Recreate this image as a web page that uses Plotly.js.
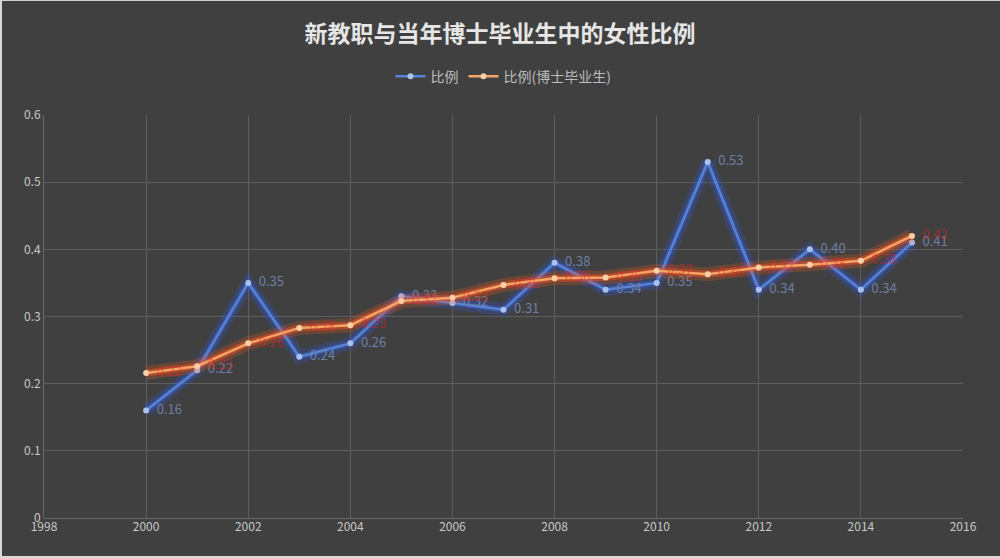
<!DOCTYPE html>
<html>
<head>
<meta charset="utf-8">
<script src="https://cdn.plot.ly/plotly-3.0.1.min.js"></script>
<style>
html,body{margin:0;padding:0;background:#404040;}
#wrap{position:relative;width:1000px;height:558px;}
#chart{width:1000px;height:558px;}
#frame{position:absolute;left:0;top:0;width:1000px;height:558px;box-sizing:border-box;border-left:2px solid #d8d8d8;border-top:1px solid #cfcfcf;border-bottom:2px solid #d8d8d8;pointer-events:none;}
</style>
</head>
<body>
<div id="wrap"><div id="chart"></div><div id="frame"></div></div>
<script>
var years = [2000,2001,2002,2003,2004,2005,2006,2007,2008,2009,2010,2011,2012,2013,2014,2015];
var ratio = [0.16,0.22,0.35,0.24,0.26,0.33,0.32,0.31,0.38,0.34,0.35,0.53,0.34,0.40,0.34,0.41];
var ratioPhD = [0.216,0.226,0.26,0.283,0.287,0.323,0.328,0.347,0.357,0.358,0.368,0.363,0.373,0.377,0.383,0.42];
var seriesNames = ['比例','比例(博士毕业生)'];

function fmt(a){return a.map(function(v){return '\u00a0\u00a0' + v.toFixed(2);});}

var cjk = '"Noto Sans CJK SC", "Noto Sans", sans-serif';
var traces = [
  {x:years,y:ratio,mode:'lines',line:{color:'rgba(40,90,255,0.2)',width:13},hoverinfo:'skip',showlegend:false},
  {x:years,y:ratio,mode:'lines',line:{color:'rgba(60,110,255,0.32)',width:6},hoverinfo:'skip',showlegend:false},
  {x:years,y:ratio,name:seriesNames[0],mode:'lines+markers+text',
   line:{color:'#5683d6',width:2.5},marker:{color:'#a9c0f0',size:6},
   text:fmt(ratio),textposition:'middle right',
   textfont:{color:'#6e7fa6',size:13,family:cjk}},
  {x:years,y:ratioPhD,mode:'lines',line:{color:'rgba(255,90,20,0.22)',width:14},hoverinfo:'skip',showlegend:false},
  {x:years,y:ratioPhD,mode:'lines',line:{color:'rgba(255,80,30,0.45)',width:7},hoverinfo:'skip',showlegend:false},
  {x:years,y:ratioPhD,name:seriesNames[1],mode:'lines+markers+text',
   line:{color:'#f4a565',width:2.5},marker:{color:'#f8d0a8',size:6},
   text:fmt(ratioPhD),textposition:'middle right',
   textfont:{color:'rgba(235,30,30,0.5)',size:13,family:cjk}}
];

var layout = {
  width:1000,height:558,
  paper_bgcolor:'#404040',plot_bgcolor:'#404040',
  margin:{l:44,r:37,t:115,b:40},
  title:{text:'新教职与当年博士毕业生中的女性比例',x:0.5,xanchor:'center',y:0.94,yanchor:'middle',
    font:{family:cjk,size:23,color:'#e6e6e6',weight:'bold'}},
  showlegend:true,
  legend:{orientation:'h',x:0.5,xanchor:'center',y:1.095,yanchor:'middle',
    font:{family:cjk,size:14,color:'#bdbdbd'},bgcolor:'rgba(0,0,0,0)'},
  xaxis:{range:[1998,2016],tick0:1998,dtick:2,showgrid:true,gridcolor:'#5e5e5e',gridwidth:1,
    zeroline:false,showline:false,ticks:'',tickfont:{family:cjk,size:12,color:'#c8c8c8'},fixedrange:true},
  yaxis:{range:[0,0.6],dtick:0.1,showgrid:true,gridcolor:'#5e5e5e',gridwidth:1,
    zeroline:true,zerolinecolor:'#6a6a6a',showline:true,linecolor:'#6a6a6a',linewidth:1,
    ticks:'',tickformat:'.1~f',tickfont:{family:cjk,size:12,color:'#c8c8c8'},fixedrange:true}
};
Plotly.newPlot('chart',traces,layout,{displayModeBar:false,staticPlot:true});
</script>
</body>
</html>
